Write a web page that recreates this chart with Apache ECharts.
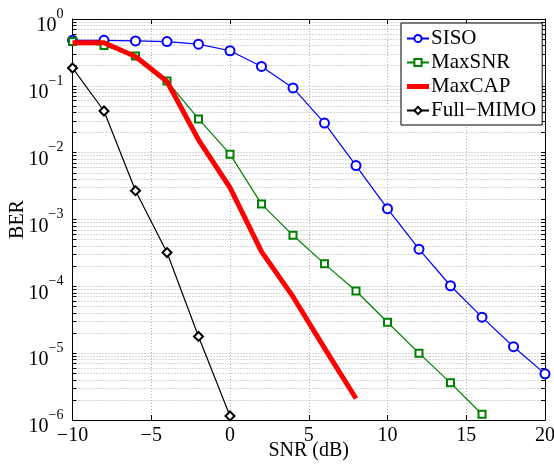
<!DOCTYPE html>
<html>
<head>
<meta charset="utf-8">
<script src="https://cdn.jsdelivr.net/npm/echarts@6/dist/echarts.min.js"></script>
<style>
html,body{margin:0;padding:0;background:#fff;}
#chart{width:554px;height:465px;}
</style>
</head>
<body>
<div id="chart"></div>
<script>
// ---- Data ----
var snrSISO = [-10,-8,-6,-4,-2,0,2,4,6,8,10,12,14,16,18,20];
var berSISO = [0.48,0.48,0.47,0.46,0.42,0.335,0.195,0.093,0.0277,0.0064,0.00145,3.6e-4,1.02e-4,3.46e-5,1.25e-5,4.9e-6];

var snrMaxSNR = [-10,-8,-6,-4,-2,0,2,4,6,8,10,12,14,16];
var berMaxSNR = [0.46,0.40,0.28,0.118,0.032,0.0095,0.0017,5.8e-4,2.17e-4,8.5e-5,2.9e-5,1.0e-5,3.6e-6,1.22e-6];

var snrMaxCAP = [-10,-8,-6,-4,-2,0,2,4,6,8];
var berMaxCAP = [0.44,0.44,0.275,0.116,0.0156,0.003,3.3e-4,7.0e-5,1.19e-5,2.1e-6];

var snrFull = [-10,-8,-6,-4,-2,0];
var berFull = [0.185,0.042,0.0027,3.2e-4,1.78e-5,1.15e-6];

var seriesNames = ['SISO','MaxSNR','MaxCAP','Full\u2212MIMO'];
var xTicks = [-10,-5,0,5,10,15,20];
var yDecades = [-6,-5,-4,-3,-2,-1,0];

// ---- helpers ----
function pairs(xs, ys){ return xs.map(function(x,i){ return [x, ys[i]]; }); }
var yMajor = yDecades.map(function(e){ return Math.pow(10,e); });
var yAll = [];
yDecades.forEach(function(e){
  yAll.push(Math.pow(10,e));
  if (e < 0) { for (var k=2;k<=9;k++) yAll.push(k*Math.pow(10,e)); }
});

var FONT = '"Liberation Serif","Times New Roman",serif';
var gridLine = {show:true, lineStyle:{color:'#b0b0b0', type:[1,2], width:1}};
// thick bar legend icon (22x9 box, 5px bar in the middle)
var thickLineIcon = 'path://M0,0h0.05v0.05h-0.05zM0,2h22v5h-22zM21.95,8.95h0.05v0.05h-0.05z';

var chart = echarts.init(document.getElementById('chart'), null, {renderer:'canvas'});
var option = {
  backgroundColor:'#fff',
  animation:false,
  grid:{left:72.5, right:9, top:19, bottom:45, containLabel:false, outerBoundsMode:'none'},
  legend:{
    orient:'vertical', left:401, top:23,
    backgroundColor:'#fff', borderColor:'#000', borderWidth:1,
    padding:[5,6,4,5], itemGap:3, itemWidth:22, itemHeight:9,
    textStyle:{fontFamily:FONT, fontSize:21, color:'#000', padding:[0,0,0,-3], lineHeight:21},
    data:[
      {name:seriesNames[0]},
      {name:seriesNames[1]},
      {name:seriesNames[2], icon:thickLineIcon},
      {name:seriesNames[3]}
    ]
  },
  xAxis:[{
    type:'value', min:-10, max:20, interval:5,
    name:'SNR (dB)', nameLocation:'middle', nameGap:21, nameMoveOverlap:false,
    nameTextStyle:{fontFamily:FONT, fontSize:20, color:'#000'},
    axisLine:{show:true, onZero:false, lineStyle:{color:'#000', width:1}},
    axisTick:{show:true, inside:true, length:5, lineStyle:{color:'#000'}},
    axisLabel:{fontFamily:FONT, fontSize:20, color:'#000', margin:6,
      formatter:function(v){ return String(v).replace('-', '\u2212'); }},
    splitLine:gridLine
  },{
    type:'value', min:-10, max:20, interval:5, position:'top',
    axisLine:{show:true, onZero:false, lineStyle:{color:'#000', width:1}},
    axisTick:{show:true, inside:true, length:5, lineStyle:{color:'#000'}},
    axisLabel:{show:false}, splitLine:{show:false}
  }],
  yAxis:[{
    type:'log', logBase:10, min:1e-6, max:1,
    name:'BER', nameLocation:'middle', nameGap:45, nameMoveOverlap:false,
    nameTextStyle:{fontFamily:FONT, fontSize:20, color:'#000'},
    axisLine:{show:true, onZero:false, lineStyle:{color:'#000', width:1}},
    axisTick:{show:true, inside:true, length:4, customValues:yAll, lineStyle:{color:'#000'}},
    axisLabel:{customValues:yMajor, margin:9, align:'right',
      formatter:function(v){
        var e = Math.round(Math.log10(v));
        return '{b|10}{e|' + String(e).replace('-', '\u2212') + '}';
      },
      rich:{
        b:{fontFamily:FONT, fontSize:20, color:'#000', padding:[14,0,0,0]},
        e:{fontFamily:FONT, fontSize:14, color:'#000', padding:[0,0,10,0]}
      }},
    splitLine:gridLine
  },{
    type:'log', logBase:10, min:1e-6, max:1, position:'right',
    axisLine:{show:true, onZero:false, lineStyle:{color:'#000', width:1}},
    axisTick:{show:true, inside:true, length:4, customValues:yAll, lineStyle:{color:'#000'}},
    axisLabel:{show:false}, splitLine:{show:false}
  }],
  series:[
    {name:seriesNames[0], type:'line', data:pairs(snrSISO,berSISO),
     symbol:'emptyCircle', symbolSize:9, color:'#0000ff',
     lineStyle:{width:1.2, color:'#0000ff'}, itemStyle:{color:'#0000ff', borderWidth:1.2}, z:3},
    {name:seriesNames[1], type:'line', data:pairs(snrMaxSNR,berMaxSNR),
     symbol:'emptyRect', symbolSize:7, color:'#008000',
     lineStyle:{width:1.2, color:'#008000'}, itemStyle:{color:'#008000', borderWidth:1.2}, z:3},
    {name:seriesNames[2], type:'line', data:pairs(snrMaxCAP,berMaxCAP),
     symbol:'none', showSymbol:false, color:'#ff0000',
     lineStyle:{width:5, color:'#ff0000'}, z:4},
    {name:seriesNames[3], type:'line', data:pairs(snrFull,berFull),
     symbol:'emptyDiamond', symbolSize:9, color:'#000000',
     lineStyle:{width:1.2, color:'#000'}, itemStyle:{color:'#000', borderWidth:1.2}, z:3}
  ]
};
chart.setOption(option);
</script>
</body>
</html>
